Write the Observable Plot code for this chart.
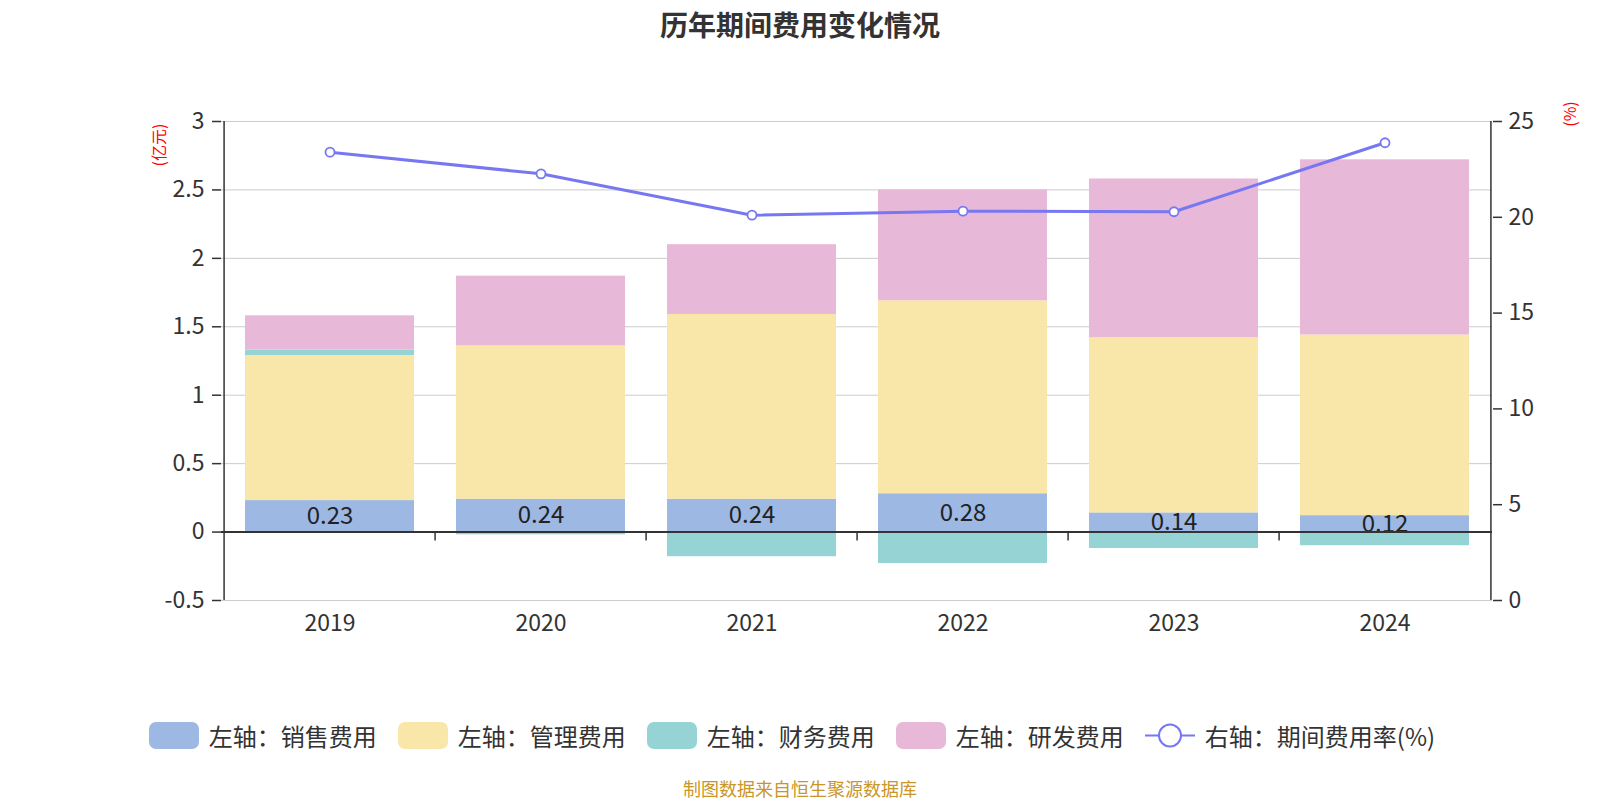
<!DOCTYPE html>
<html><head><meta charset="utf-8">
<script src="https://cdn.jsdelivr.net/npm/d3@7"></script>
<script src="https://cdn.jsdelivr.net/npm/@observablehq/plot@0.6"></script>
<style>
html,body{margin:0;padding:0;background:#fff;overflow:hidden}
#wrap{position:relative;width:1600px;height:800px;font-family:"Noto Sans CJK SC","Noto Sans",sans-serif;color:#333}
#title{position:absolute;top:0;left:0;width:1600px;text-align:center;font-size:28px;font-weight:bold;line-height:48px;color:#333}
#chart{position:absolute;left:0;top:0}
.unit{position:absolute;color:#f00;font-size:16px;white-space:nowrap;transform:translate(-50%,-50%) rotate(-90deg);line-height:16px}
#legend{position:absolute;top:722px;left:-8px;width:1600px;display:flex;justify-content:center;align-items:center;height:27px}
.item{display:flex;align-items:center;margin:0 10.5px;font-size:24px;color:#333;white-space:nowrap}
.sw{width:50px;height:27px;border-radius:7px;margin-right:10px}
#caption{position:absolute;top:776px;left:0;width:1600px;text-align:center;font-size:18px;line-height:24px;color:#c9962a}
</style>
</head><body>
<div id="wrap">
  <div id="title">历年期间费用变化情况</div>
  <div id="chart"></div>
  <div class="unit" style="left:158px;top:145px">(亿元)</div>
  <div class="unit" style="left:1569px;top:114px">(%)</div>
  <div id="legend"></div>
  <div id="caption">制图数据来自恒生聚源数据库</div>
</div>
<script>
// ---- data ----
const years = ["2019", "2020", "2021", "2022", "2023", "2024"];
const salesExp   = [0.23, 0.24, 0.24, 0.28, 0.14, 0.12];
const adminExp   = [1.06, 1.12, 1.35, 1.41, 1.28, 1.32];
const financeExp = [0.04, -0.02, -0.18, -0.23, -0.12, -0.10];
const rdExp      = [0.25, 0.51, 0.51, 0.81, 1.16, 1.28];
const expenseRate = [23.40, 22.27, 20.11, 20.32, 20.29, 23.89];
const leftTicks  = [-0.5, 0, 0.5, 1, 1.5, 2, 2.5, 3];
const rightTicks = [0, 5, 10, 15, 20, 25];
const seriesNames = ["左轴：销售费用", "左轴：管理费用", "左轴：财务费用", "左轴：研发费用"];
const lineName = "右轴：期间费用率(%)";
const seriesColors = ["#9db8e2", "#f8e7a9", "#96d3d4", "#e8b8d8"];
const lineColor = "#7777f2";

// ---- layout ----
const W = 1600, H = 800, mL = 221, mR = 108, mT = 121, mB = 200;
const leftDomain = [leftTicks[0], leftTicks[leftTicks.length - 1]];
const rightDomain = [rightTicks[0], rightTicks[rightTicks.length - 1]];
const rateToLeft = r => leftDomain[0] + (r - rightDomain[0]) * (leftDomain[1] - leftDomain[0]) / (rightDomain[1] - rightDomain[0]);
const leftToRate = v => rightDomain[0] + (v - leftDomain[0]) * (rightDomain[1] - rightDomain[0]) / (leftDomain[1] - leftDomain[0]);
const step = (W - mL - mR) / years.length;
const pxPerUnit = (H - mT - mB) / (leftDomain[1] - leftDomain[0]);
const tickLen = 9;
const tickFont = 23;

const seriesValues = [salesExp, adminExp, financeExp, rdExp];
const rows = [];
seriesNames.forEach((s, k) => years.forEach((y, i) => rows.push({year: y, series: s, value: seriesValues[k][i]})));

const chart = Plot.plot({
  width: W, height: H,
  marginLeft: mL, marginRight: mR, marginTop: mT, marginBottom: mB,
  style: {fontFamily: '"Noto Sans CJK SC","Noto Sans",sans-serif', fontSize: tickFont + "px", color: "#333", background: "transparent"},
  x: {domain: years, paddingInner: 0.2, paddingOuter: 0.1},
  y: {domain: leftDomain},
  color: {domain: seriesNames, range: seriesColors},
  marks: [
    Plot.gridY(leftTicks, {stroke: "#cccccc", strokeOpacity: 1, strokeWidth: 1}),
    Plot.barY(rows, {x: "year", y: "value", fill: "series"}),
    Plot.text(years, {x: d => d, y: (d, i) => salesExp[i] / 2, text: (d, i) => salesExp[i].toFixed(2), fontSize: 24, fill: "#222"}),
    Plot.ruleY([0], {stroke: "#333", strokeWidth: 2}),
    Plot.ruleX(years.slice(1), {x: d => d, dx: -step / 2, y1: 0, y2: -tickLen / pxPerUnit, stroke: "#333", strokeWidth: 1.5}),
    Plot.ruleX([years[0]], {x: d => d, dx: -step / 2, y1: leftDomain[0], y2: leftDomain[1], stroke: "#333", strokeWidth: 1.5}),
    Plot.ruleX([years[years.length - 1]], {x: d => d, dx: step / 2, y1: leftDomain[0], y2: leftDomain[1], stroke: "#333", strokeWidth: 1.5}),
    Plot.axisY(leftTicks, {anchor: "left", tickSize: tickLen, tickPadding: 8, label: null, stroke: "#333", fill: "#333", strokeWidth: 1.5,
      fontSize: tickFont, tickFormat: d => String(d)}),
    Plot.axisY(rightTicks.map(rateToLeft), {anchor: "right", tickSize: tickLen, tickPadding: 7, label: null, stroke: "#333", fill: "#333", strokeWidth: 1.5,
      fontSize: tickFont, tickFormat: d => String(Math.round(leftToRate(d)))}),
    Plot.axisX({anchor: "bottom", tickSize: 0, tickPadding: 14, label: null, fill: "#333", fontSize: tickFont}),
    Plot.line(years, {x: d => d, y: (d, i) => rateToLeft(expenseRate[i]), stroke: lineColor, strokeWidth: 3}),
    Plot.dot(years, {x: d => d, y: (d, i) => rateToLeft(expenseRate[i]), r: 4.5, fill: "white", stroke: lineColor, strokeWidth: 1.8})
  ]
});
document.getElementById("chart").appendChild(chart);

// ---- legend ----
const legend = document.getElementById("legend");
seriesNames.forEach((s, k) => {
  const it = document.createElement("div");
  it.className = "item";
  it.innerHTML = `<span class="sw" style="background:${seriesColors[k]}"></span><span>${s}</span>`;
  legend.appendChild(it);
});
const li = document.createElement("div");
li.className = "item";
li.innerHTML = `<svg width="50" height="27" style="margin-right:10px"><line x1="0" x2="50" y1="13.5" y2="13.5" stroke="${lineColor}" stroke-width="2"/><circle cx="25" cy="13.5" r="11" fill="white" stroke="${lineColor}" stroke-width="2"/></svg><span>${lineName}</span>`;
legend.appendChild(li);
</script>
</body></html>
